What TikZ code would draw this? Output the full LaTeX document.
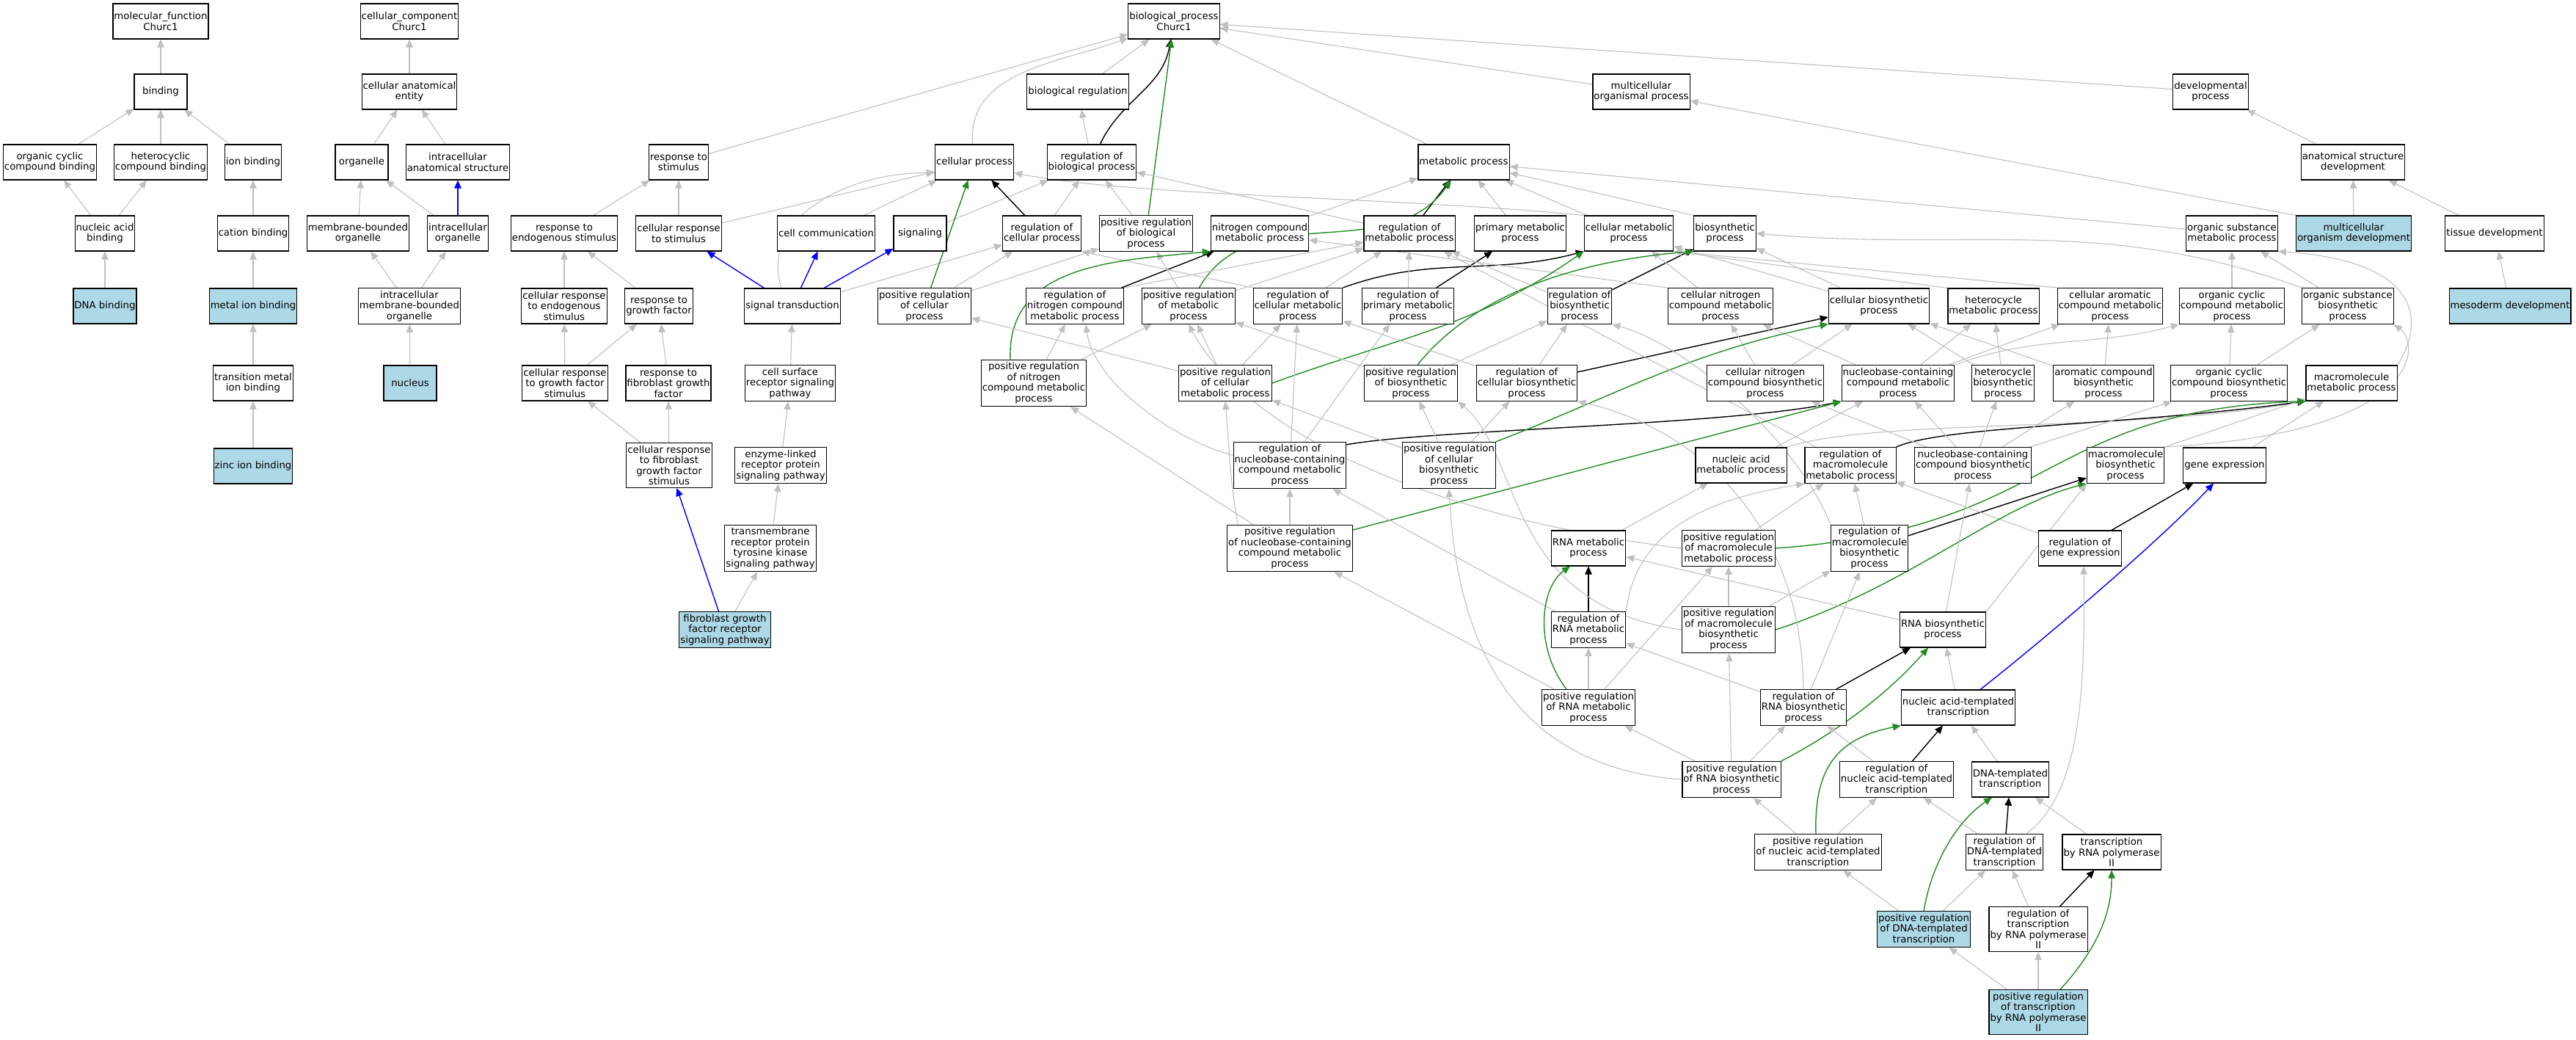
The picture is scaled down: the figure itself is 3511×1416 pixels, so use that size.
\documentclass[tikz,border=0pt]{standalone}
\usepackage{fontspec}
\setmainfont{DejaVu Sans}
\usepackage{tikz}
\usetikzlibrary{arrows.meta}
\definecolor{lightblue}{HTML}{ADD8E6}
\definecolor{isagray}{HTML}{C0C0C0}
\definecolor{forestgreen}{HTML}{228B22}
\pgfdeclarelayer{edges}
\pgfsetlayers{edges,main}

\begin{document}
\begin{tikzpicture}[x=1pt,y=1pt,
  term/.style={draw,line width=1.1pt,fill=white,align=center,minimum width=72pt,minimum height=48pt,inner xsep=1.5pt,inner ysep=3.5pt,font=\fontsize{13.3}{14.5}\selectfont},
  hit/.style={term,fill=lightblue},
  isa/.style={isagray,line width=1.1pt,-{Triangle[length=11pt,width=9.5pt]}},
  reg/.style={isa,black,line width=1.4pt},
  posreg/.style={isa,forestgreen,line width=1.4pt},
  partof/.style={isa,blue,line width=1.4pt}]
  \useasboundingbox (0,0) rectangle (3511,-1416);

  \node[term] (mf) at (219,-29) {molecular\_function\\Churc1};
  \node[term] (binding) at (219,-125) {binding};
  \node[term] (occb) at (68,-221) {organic cyclic\\compound binding};
  \node[term] (hccb) at (219,-221) {heterocyclic\\compound binding};
  \node[term] (ionb) at (345,-221) {ion binding};
  \node[term] (nab) at (143,-318) {nucleic acid\\binding};
  \node[term] (cationb) at (345,-318) {cation binding};
  \node[hit] (dnab) at (143,-417) {DNA binding};
  \node[hit] (metalb) at (345,-417) {metal ion binding};
  \node[term] (tmib) at (345,-522) {transition metal\\ion binding};
  \node[hit] (zincb) at (345,-635) {zinc ion binding};

  \node[term] (cc) at (558,-29) {cellular\_component\\Churc1};
  \node[term] (cae) at (558,-125) {cellular anatomical\\entity};
  \node[term] (organelle) at (493,-221) {organelle};
  \node[term] (ias) at (624,-221) {intracellular\\anatomical structure};
  \node[term] (mbo) at (488,-318) {membrane-bounded\\organelle};
  \node[term] (io) at (624,-318) {intracellular\\organelle};
  \node[term] (imbo) at (558,-417) {intracellular\\membrane-bounded\\organelle};
  \node[hit] (nucleus) at (559,-522) {nucleus};

  \node[term] (bp) at (1600,-29) {biological\_process\\Churc1};
  \node[term] (bioreg) at (1469,-125) {biological regulation};
  \node[term] (multorg) at (2237,-125) {multicellular\\organismal process};
  \node[term] (devproc) at (3013,-125) {developmental\\process};
  \node[term] (respstim) at (925,-221) {response to\\stimulus};
  \node[term] (cellproc) at (1328,-221) {cellular process};
  \node[term] (regbp) at (1488,-221) {regulation of\\biological process};
  \node[term] (metproc) at (1995,-221) {metabolic process};
  \node[term] (asd) at (3207,-221) {anatomical structure\\development};

  \node[term] (resendo) at (769,-318) {response to\\endogenous stimulus};
  \node[term] (cellresp) at (925,-318) {cellular response\\to stimulus};
  \node[term] (cellcomm) at (1126,-318) {cell communication};
  \node[term] (signaling) at (1254,-318) {signaling};
  \node[term] (regcp) at (1420,-318) {regulation of\\cellular process};
  \node[term] (posregbp) at (1562,-318) {positive regulation\\of biological\\process};
  \node[term] (ncmp) at (1717,-318) {nitrogen compound\\metabolic process};
  \node[term] (regmp) at (1921,-318) {regulation of\\metabolic process};
  \node[term] (primp) at (2072,-318) {primary metabolic\\process};
  \node[term] (cellmp) at (2220,-318) {cellular metabolic\\process};
  \node[term] (biosyn) at (2351,-318) {biosynthetic\\process};
  \node[term] (osmp) at (3042,-318) {organic substance\\metabolic process};
  \node[hit] (mod) at (3208,-318) {multicellular\\organism development};
  \node[term] (tissdev) at (3400,-318) {tissue development};

  \node[term] (cresendo) at (769,-417) {cellular response\\to endogenous\\stimulus};
  \node[term] (respgf) at (898,-417) {response to\\growth factor};
  \node[term] (sigtrans) at (1080,-417) {signal transduction};
  \node[term] (posregcp) at (1260,-417) {positive regulation\\of cellular\\process};
  \node[term] (regncmp) at (1465,-417) {regulation of\\nitrogen compound\\metabolic process};
  \node[term] (posregmp) at (1620,-417) {positive regulation\\of metabolic\\process};
  \node[term] (regcmp) at (1769,-417) {regulation of\\cellular metabolic\\process};
  \node[term] (regprimp) at (1919,-417) {regulation of\\primary metabolic\\process};
  \node[term] (regbiosyn) at (2153,-417) {regulation of\\biosynthetic\\process};
  \node[term] (cncmp) at (2345,-417) {cellular nitrogen\\compound metabolic\\process};
  \node[term] (cellbiosyn) at (2561,-417) {cellular biosynthetic\\process};
  \node[term] (hcmp) at (2717,-417) {heterocycle\\metabolic process};
  \node[term] (camp) at (2876,-417) {cellular aromatic\\compound metabolic\\process};
  \node[term] (occmp) at (3042,-417) {organic cyclic\\compound metabolic\\process};
  \node[term] (osbp) at (3200,-417) {organic substance\\biosynthetic\\process};
  \node[hit] (mesodev) at (3421,-417) {mesoderm development};

  \node[term] (crgfs) at (770,-522) {cellular response\\to growth factor\\stimulus};
  \node[term] (respfgf) at (911,-522) {response to\\fibroblast growth\\factor};
  \node[term] (csrsp) at (1077,-522) {cell surface\\receptor signaling\\pathway};
  \node[term] (posregncmp) at (1409,-522) {positive regulation\\of nitrogen\\compound metabolic\\process};
  \node[term] (posregcmp) at (1670,-522) {positive regulation\\of cellular\\metabolic process};
  \node[term] (posregbiosyn) at (1923,-522) {positive regulation\\of biosynthetic\\process};
  \node[term] (regcbiosyn) at (2081,-522) {regulation of\\cellular biosynthetic\\process};
  \node[term] (cncbp) at (2406,-522) {cellular nitrogen\\compound biosynthetic\\process};
  \node[term] (nbcmp) at (2587,-522) {nucleobase-containing\\compound metabolic\\process};
  \node[term] (hcbp) at (2730,-522) {heterocycle\\biosynthetic\\process};
  \node[term] (acbp) at (2867,-522) {aromatic compound\\biosynthetic\\process};
  \node[term] (occbp) at (3038,-522) {organic cyclic\\compound biosynthetic\\process};
  \node[term] (mmp) at (3205,-522) {macromolecule\\metabolic process};

  \node[term] (crfgfs) at (912,-634) {cellular response\\to fibroblast\\growth factor\\stimulus};
  \node[term] (elrpsp) at (1064,-634) {enzyme-linked\\receptor protein\\signaling pathway};
  \node[term] (regnbcmp) at (1758,-634) {regulation of\\nucleobase-containing\\compound metabolic\\process};
  \node[term] (posregcbiosyn) at (1975,-634) {positive regulation\\of cellular\\biosynthetic\\process};
  \node[term] (namp) at (2373,-634) {nucleic acid\\metabolic process};
  \node[term] (regmmp) at (2522,-634) {regulation of\\macromolecule\\metabolic process};
  \node[term] (nbcbp) at (2689,-634) {nucleobase-containing\\compound biosynthetic\\process};
  \node[term] (mbp) at (2897,-634) {macromolecule\\biosynthetic\\process};
  \node[term] (geneexp) at (3032,-634) {gene expression};

  \node[term] (tmrptk) at (1050,-747) {transmembrane\\receptor protein\\tyrosine kinase\\signaling pathway};
  \node[term] (posregnbcmp) at (1758,-747) {positive regulation\\of nucleobase-containing\\compound metabolic\\process};
  \node[term] (rnamp) at (2165,-747) {RNA metabolic\\process};
  \node[term] (posregmmp) at (2356,-747) {positive regulation\\of macromolecule\\metabolic process};
  \node[term] (regmbp) at (2548,-747) {regulation of\\macromolecule\\biosynthetic\\process};
  \node[term] (reggeneexp) at (2835,-747) {regulation of\\gene expression};

  \node[hit] (fgfrsp) at (988,-858) {fibroblast growth\\factor receptor\\signaling pathway};
  \node[term] (regrnamp) at (2165,-858) {regulation of\\RNA metabolic\\process};
  \node[term] (posregmbp) at (2356,-858) {positive regulation\\of macromolecule\\biosynthetic\\process};
  \node[term] (rnabp) at (2648,-858) {RNA biosynthetic\\process};

  \node[term] (posregrnamp) at (2165,-964) {positive regulation\\of RNA metabolic\\process};
  \node[term] (regrnabp) at (2458,-964) {regulation of\\RNA biosynthetic\\process};
  \node[term] (natt) at (2669,-964) {nucleic acid-templated\\transcription};

  \node[term] (posregrnabp) at (2360,-1062) {positive regulation\\of RNA biosynthetic\\process};
  \node[term] (regnatt) at (2585,-1062) {regulation of\\nucleic acid-templated\\transcription};
  \node[term] (dnatt) at (2740,-1062) {DNA-templated\\transcription};

  \node[term] (posregnatt) at (2478,-1161) {positive regulation\\of nucleic acid-templated\\transcription};
  \node[term] (regdnatt) at (2732,-1161) {regulation of\\DNA-templated\\transcription};
  \node[term] (trpol) at (2878,-1161) {transcription\\by RNA polymerase\\II};

  \node[hit] (posregdnatt) at (2622,-1266) {positive regulation\\of DNA-templated\\transcription};
  \node[term] (regtrpol) at (2778,-1266) {regulation of\\transcription\\by RNA polymerase\\II};

  \node[hit] (posregtrpol) at (2778,-1379) {positive regulation\\of transcription\\by RNA polymerase\\II};

  \begin{pgfonlayer}{edges}
  \draw[isa] (binding) -- (mf);
  \draw[isa] (occb) -- (binding);
  \draw[isa] (hccb) -- (binding);
  \draw[isa] (ionb) -- (binding);
  \draw[isa] (nab) -- (occb);
  \draw[isa] (nab) -- (hccb);
  \draw[isa] (cationb) -- (ionb);
  \draw[isa] (dnab) -- (nab);
  \draw[isa] (metalb) -- (cationb);
  \draw[isa] (tmib) -- (metalb);
  \draw[isa] (zincb) -- (tmib);

  \draw[isa] (cae) -- (cc);
  \draw[isa] (organelle) -- (cae);
  \draw[isa] (ias) -- (cae);
  \draw[isa] (mbo) -- (organelle);
  \draw[isa] (io) -- (organelle);
  \draw[partof] (io) -- (ias);
  \draw[isa] (imbo) -- (mbo);
  \draw[isa] (imbo) -- (io);
  \draw[isa] (nucleus) -- (imbo);

  \draw[isa] (bioreg) -- (bp);
  \draw[isa] (regbp) -- (bioreg);
  \draw[reg] (regbp) to[out=65,in=-100] (bp);
  \draw[posreg] (posregbp) -- (bp);
  \draw[isa] (posregbp) -- (regbp);
  \draw[isa] (cellproc) to[out=95,in=200] (bp);
  \draw[isa] (metproc) -- (bp);
  \draw[isa] (multorg) -- (bp);
  \draw[isa] (devproc) -- (bp);
  \draw[isa] (respstim) -- (bp);

  \draw[isa] (resendo) -- (respstim);
  \draw[isa] (cellresp) -- (respstim);
  \draw[isa] (cellresp) -- (cellproc);
  \draw[isa] (cresendo) -- (resendo);
  \draw[isa] (respgf) -- (resendo);
  \draw[isa] (crgfs) -- (cresendo);
  \draw[isa] (crgfs) -- (respgf);
  \draw[isa] (respfgf) -- (respgf);
  \draw[isa] (crfgfs) -- (crgfs);
  \draw[isa] (crfgfs) -- (respfgf);
  \draw[partof] (fgfrsp) -- (crfgfs);
  \draw[isa] (fgfrsp) -- (tmrptk);
  \draw[isa] (tmrptk) -- (elrpsp);
  \draw[isa] (elrpsp) -- (csrsp);
  \draw[isa] (csrsp) -- (sigtrans);
  \draw[partof] (sigtrans) -- (cellresp);
  \draw[partof] (sigtrans) -- (cellcomm);
  \draw[partof] (sigtrans) -- (signaling);
  \draw[isa] ([xshift=-15pt]sigtrans.north) .. controls (1035,-300) and (1150,-235) .. (cellproc.195);
  \draw[isa] (sigtrans) -- (regcp);
  \draw[isa] (cellcomm) -- (cellproc);
  \draw[isa] (signaling) -- (regbp);

  \draw[reg] (regcp) -- (cellproc);
  \draw[isa] (regcp) -- (regbp);
  \draw[posreg] (posregcp) -- (cellproc);
  \draw[isa] (posregcp) -- (regcp);
  \draw[isa] (posregcp) -- (posregbp);

  \draw[isa] (cellmp.north west) .. controls (1900,-268) and (1550,-268) .. (cellproc.-15);
  \draw[isa] (regmp) -- (regbp);
  \draw[isa] (ncmp) -- (metproc);
  \draw[reg] (regmp) -- (metproc);
  \draw[posreg] (posregmp) to[out=60,in=235] (metproc);
  \draw[isa] (primp) -- (metproc);
  \draw[isa] (cellmp) -- (metproc);
  \draw[isa] (biosyn.north west) -- (metproc);
  \draw[isa] (osmp) -- (metproc);
  \draw[isa] (mod.north west) -- (multorg);
  \draw[isa] (mod) -- (asd);
  \draw[isa] (asd) -- (devproc);
  \draw[isa] (tissdev) -- (asd);
  \draw[isa] (mesodev) -- (tissdev);

  \draw[isa] (posregmp) -- (regmp);
  \draw[isa] (posregmp) -- (posregbp);
  \draw[reg] (regncmp) -- (ncmp);
  \draw[isa] (regncmp.north east) -- (regmp);
  \draw[reg] (regcmp.north east) to[out=20,in=195] (cellmp.south west);
  \draw[isa] (regcmp) -- (regmp);
  \draw[isa] (regcmp.north west) -- (regcp.south east);
  \draw[reg] (regprimp) -- (primp);
  \draw[isa] (regprimp) -- (regmp);
  \draw[reg] (regbiosyn) -- (biosyn);
  \draw[isa] (regbiosyn) -- (regmp);
  \draw[isa] (cncmp.north west) -- (ncmp);
  \draw[isa] (cncmp) -- (cellmp);
  \draw[isa] (cellbiosyn) -- (biosyn);
  \draw[isa] (cellbiosyn) -- (cellmp);
  \draw[isa] (hcmp.north west) -- (cellmp.south east);
  \draw[isa] (camp.north west) -- (cellmp.south east);
  \draw[isa] (occmp) -- (osmp);
  \draw[isa] (osbp) -- (osmp);
  \draw[isa] (osbp.north west) to[out=160,in=-5] (biosyn.east);

  \draw[posreg] ([xshift=-32pt]posregncmp.north) .. controls (1372,-360) and (1520,-355) .. (ncmp.south west);
  \draw[isa] (posregncmp) -- (regncmp);
  \draw[isa] (posregncmp) -- (posregmp);
  \draw[posreg] (posregcmp.east) to[out=20,in=215] (cellmp.south west);
  \draw[isa] (posregcmp) -- (posregmp);
  \draw[isa] (posregcmp) -- (regcmp);
  \draw[isa] (posregcmp) -- (posregcp);
  \draw[posreg] (posregbiosyn.70) .. controls (2010,-400) and (2150,-355) .. (biosyn.south west);
  \draw[isa] (posregbiosyn) -- (regbiosyn);
  \draw[isa] (posregbiosyn) -- (posregmp);
  \draw[reg] (regcbiosyn) -- (cellbiosyn);
  \draw[isa] (regcbiosyn) -- (regbiosyn);
  \draw[isa] (regcbiosyn) -- (regcmp);
  \draw[isa] (cncbp) -- (cncmp);
  \draw[isa] (cncbp) -- (cellbiosyn);
  \draw[isa] (nbcmp) -- (cncmp);
  \draw[isa] (nbcmp) -- (hcmp);
  \draw[isa] (nbcmp) -- (camp);
  \draw[isa] (nbcmp.north east) to[out=20,in=195] (occmp.south west);
  \draw[isa] (hcbp) -- (hcmp);
  \draw[isa] (hcbp) -- (cellbiosyn);
  \draw[isa] (acbp) -- (camp);
  \draw[isa] (acbp) -- (cellbiosyn);
  \draw[isa] (occbp) -- (occmp);
  \draw[isa] (occbp) -- (osbp);
  \draw[isa] (mmp.north east) .. controls (3310,-430) and (3290,-355) .. (osmp.south east);

  \draw[reg] (regnbcmp.20) .. controls (1950,-585) and (2350,-580) .. (nbcmp.south west);
  \draw[isa] (regnbcmp.170) .. controls (1600,-600) and (1490,-520) .. ([xshift=15pt]regncmp.south);
  \draw[isa] (regnbcmp) -- (regcmp);
  \draw[isa] ([xshift=20pt]regnbcmp.north) -- ([xshift=-25pt]regprimp.south);
  \draw[posreg] (posregcbiosyn.north east) .. controls (2200,-540) and (2300,-480) .. (cellbiosyn.south west);
  \draw[isa] (posregcbiosyn) -- (regcbiosyn);
  \draw[isa] (posregcbiosyn) -- (posregbiosyn);
  \draw[isa] (posregcbiosyn) -- (posregcmp);
  \draw[isa] (namp) -- (nbcmp);
  \draw[isa] (namp.north east) .. controls (2550,-570) and (2900,-590) .. (mmp.south west);
  \draw[reg] (regmmp.north east) .. controls (2650,-580) and (2900,-580) .. (mmp.south west);
  \draw[isa] (regmmp) -- (regmp);
  \draw[isa] (nbcbp) -- (nbcmp);
  \draw[isa] (nbcbp) -- (hcbp);
  \draw[isa] (nbcbp) -- (acbp);
  \draw[isa] (nbcbp) -- (occbp);
  \draw[isa] (nbcbp) -- (cncbp);
  \draw[isa] (mbp.north east) -- (mmp);
  \draw[isa] (mbp.north east) .. controls (3300,-590) and (3300,-470) .. (osbp.south east);
  \draw[isa] (geneexp) -- (mmp);

  \draw[isa] (posregnbcmp) -- (regnbcmp);
  \draw[isa] (posregnbcmp) -- (posregncmp);
  \draw[isa] ([xshift=15pt]posregnbcmp.north west) to[out=100,in=-85] (posregcmp.south);
  \draw[posreg] ([yshift=25pt]posregnbcmp.east) -- (nbcmp.south west);
  \draw[isa] (rnamp) -- (namp);
  \draw[isa] (posregmmp) -- (regmmp);
  \draw[posreg] (posregmmp.east) .. controls (2800,-720) and (2780,-560) .. (mmp.south west);
  \draw[isa] (posregmmp.west) .. controls (1950,-705) and (1700,-590) .. (posregmp.south);
  \draw[reg] (regmbp) -- (mbp);
  \draw[isa] (regmbp) -- (regmmp);
  \draw[isa] (regmbp.north west) .. controls (2450,-600) and (2300,-470) .. (regbiosyn.south east);
  \draw[reg] (reggeneexp) -- (geneexp);
  \draw[isa] (reggeneexp) -- (regmmp);

  \draw[reg] (regrnamp) -- (rnamp);
  \draw[isa] (regrnamp) -- (regnbcmp);
  \draw[isa] (regrnamp.north east) .. controls (2230,-720) and (2330,-680) .. (regmmp.south west);
  \draw[isa] (posregmbp) -- (regmbp);
  \draw[isa] (posregmbp) -- (posregmmp);
  \draw[posreg] (posregmbp.east) .. controls (2600,-800) and (2720,-690) .. (mbp.south west);
  \draw[isa] (posregmbp.west) .. controls (2050,-825) and (2075,-620) .. (posregbiosyn.south east);
  \draw[isa] (rnabp) -- (rnamp);
  \draw[isa] (rnabp) -- (nbcbp);
  \draw[isa] (rnabp.north east) -- (mbp.south west);

  \draw[isa] (posregrnamp) -- (regrnamp);
  \draw[posreg] ([xshift=-30pt]posregrnamp.north) .. controls (2090,-880) and (2100,-800) .. ([xshift=-25pt]rnamp.south);
  \draw[isa] (posregrnamp) -- (posregnbcmp);
  \draw[isa] (posregrnamp) -- (posregmmp);
  \draw[reg] (regrnabp) -- (rnabp);
  \draw[isa] (regrnabp) -- (regrnamp);
  \draw[isa] (regrnabp) -- (regmbp);
  \draw[isa] (regrnabp.north) .. controls (2455,-700) and (2300,-580) .. (regcbiosyn.south east);
  \draw[isa] (natt) -- (rnabp);
  \draw[partof] ([xshift=30pt]natt.north) .. controls (2800,-860) and (2950,-730) .. ([xshift=-15pt]geneexp.south);

  \draw[isa] (posregrnabp) -- (regrnabp);
  \draw[isa] (posregrnabp) -- (posregrnamp);
  \draw[posreg] (posregrnabp.north east) .. controls (2480,-1010) and (2560,-960) .. ([xshift=-20pt]rnabp.south);
  \draw[isa] (posregrnabp) -- (posregmbp);
  \draw[isa] (posregrnabp.west) .. controls (2050,-1045) and (1985,-860) .. (posregcbiosyn.south);
  \draw[reg] (regnatt) -- (natt);
  \draw[isa] (regnatt) -- (regrnabp);
  \draw[isa] (dnatt) -- (natt);

  \draw[isa] (posregnatt) -- (regnatt);
  \draw[isa] (posregnatt) -- (posregrnabp);
  \draw[posreg] ([xshift=-3pt]posregnatt.north) .. controls (2472,-1040) and (2510,-1005) .. (natt.south west);
  \draw[reg] (regdnatt) -- (dnatt);
  \draw[isa] (regdnatt) -- (regnatt);
  \draw[isa] ([xshift=30pt]regdnatt.north) .. controls (2835,-1080) and (2842,-950) .. ([xshift=5pt]reggeneexp.south);
  \draw[isa] (trpol) -- (dnatt);

  \draw[isa] (posregdnatt) -- (regdnatt);
  \draw[isa] (posregdnatt) -- (posregnatt);
  \draw[posreg] (posregdnatt.north) .. controls (2632,-1180) and (2665,-1120) .. ([xshift=-25pt]dnatt.south);
  \draw[reg] (regtrpol) -- (trpol);
  \draw[isa] (regtrpol) -- (regdnatt);

  \draw[isa] (posregtrpol) -- (regtrpol);
  \draw[isa] (posregtrpol) -- (posregdnatt);
  \draw[posreg] ([xshift=30pt]posregtrpol.north) .. controls (2870,-1280) and (2878,-1230) .. (trpol.south);
  \end{pgfonlayer}
\end{tikzpicture}
\end{document}
